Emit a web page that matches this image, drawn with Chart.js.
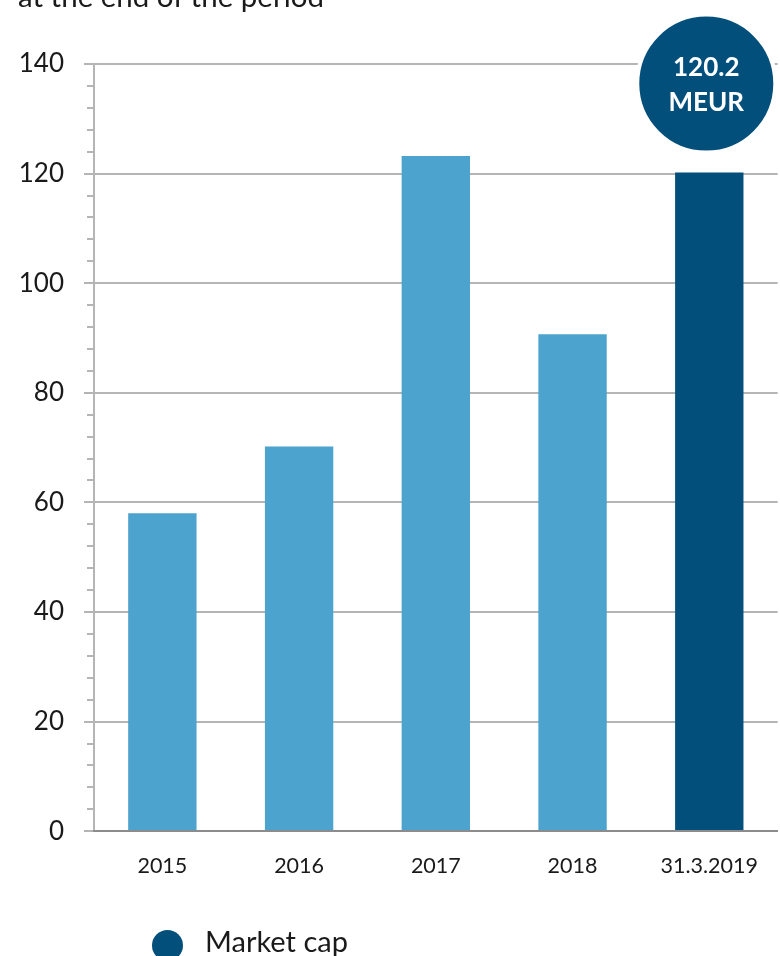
<!DOCTYPE html>
<html>
<head>
<meta charset="utf-8">
<script src="https://cdn.jsdelivr.net/npm/chart.js@4"></script>
<style>
  html, body { margin: 0; padding: 0; background: #fff; overflow: hidden; }
  #wrap { position: relative; width: 780px; height: 956px; }
  #title { position: absolute; left: 18px; top: -22px; font: 29.5px Lato, sans-serif; color: #1a1a1a; white-space: nowrap; }
  #legend { position: absolute; left: 152px; top: 923px; font: 29px Lato, sans-serif; color: #1a1a1a; white-space: nowrap; }
  #legend .dot { position: absolute; left: 0; top: 7px; width: 31px; height: 31px; border-radius: 50%; background: #034f7c; }
  #legend .txt { position: absolute; left: 53px; top: 0; }
  canvas { position: absolute; left: 0; top: 0; }
</style>
</head>
<body>
<div id="wrap">
  <canvas id="c" width="780" height="956"></canvas>
  <div id="title">at the end of the period</div>
  <div id="legend"><span class="dot"></span><span class="txt">Market cap</span></div>
</div>
<script>
// Market capitalisation, MEUR
const categories = ['2015', '2016', '2017', '2018', '31.3.2019'];
const marketCap = [58.0, 70.2, 123.2, 90.7, 120.2];
const yTicks = [0, 20, 40, 60, 80, 100, 120, 140];
const badgeUnit = 'MEUR';

const LIGHT = '#4ba3ce';
const DARK = '#034f7c';
const GRID = '#b5b5b5';
const AXIS0 = '#8c8c8c';

// small minor tick marks on the value axis (4 between each labelled step)
const minorTicks = {
  id: 'minorTicks',
  afterDraw(chart) {
    const y = chart.scales.y;
    const ctx = chart.ctx;
    const step = (yTicks[1] - yTicks[0]) / 5;
    ctx.save();
    ctx.strokeStyle = GRID;
    ctx.lineWidth = 2;
    for (let v = yTicks[0]; v < yTicks[yTicks.length - 1]; v += step) {
      if (Math.abs((v / (step * 5)) - Math.round(v / (step * 5))) < 1e-6) continue;
      const py = Math.round(y.getPixelForValue(v));
      ctx.beginPath();
      ctx.moveTo(y.right - 7, py);
      ctx.lineTo(y.right, py);
      ctx.stroke();
    }
    ctx.restore();
  }
};

// round value badge above the latest bar
const badge = {
  id: 'badge',
  afterDatasetsDraw(chart) {
    const meta = chart.getDatasetMeta(0);
    const i = marketCap.length - 1;
    const el = meta.data[i];
    const r = 69;
    const cx = el.x - 3;
    const cy = el.y - 20 - r;
    const ctx = chart.ctx;
    ctx.save();
    ctx.beginPath();
    ctx.arc(cx, cy, r, 0, Math.PI * 2);
    ctx.fillStyle = DARK;
    ctx.fill();
    ctx.lineWidth = 4;
    ctx.strokeStyle = '#ffffff';
    ctx.stroke();
    ctx.fillStyle = '#ffffff';
    ctx.font = 'bold 26px Lato, sans-serif';
    ctx.textAlign = 'center';
    ctx.textBaseline = 'middle';
    ctx.fillText(marketCap[i].toFixed(1), cx, cy - 16);
    ctx.fillText(badgeUnit, cx, cy + 19);
    ctx.restore();
  }
};

new Chart(document.getElementById('c'), {
  type: 'bar',
  data: {
    labels: categories,
    datasets: [{
      label: 'Market cap',
      data: marketCap,
      backgroundColor: categories.map((_, i) => i === categories.length - 1 ? DARK : LIGHT),
      borderWidth: 0,
      categoryPercentage: 1.0,
      barPercentage: 0.5
    }]
  },
  options: {
    responsive: false,
    animation: false,
    devicePixelRatio: 1,
    layout: { padding: { top: 64, right: 0, bottom: 55, left: 0 } },
    plugins: { legend: { display: false }, tooltip: { enabled: false } },
    scales: {
      x: {
        grid: { display: false, drawTicks: false },
        border: { display: true, color: AXIS0, width: 2, z: 1 },
        ticks: { color: '#1a1a1a', font: { family: 'Lato', size: 21.5 }, padding: 22, maxRotation: 0 }
      },
      y: {
        min: 0,
        max: 140,
        afterBuildTicks(scale) { scale.ticks = yTicks.map(v => ({ value: v })); },
        afterFit(scale) { scale.width = 94; },
        grid: {
          color: GRID,
          lineWidth: 2,
          tickLength: 10
        },
        border: { display: true, color: GRID, width: 2 },
        ticks: { color: '#1a1a1a', font: { family: 'Lato', size: 26 }, padding: 20 }
      }
    }
  },
  plugins: [minorTicks, badge]
});
</script>
</body>
</html>
